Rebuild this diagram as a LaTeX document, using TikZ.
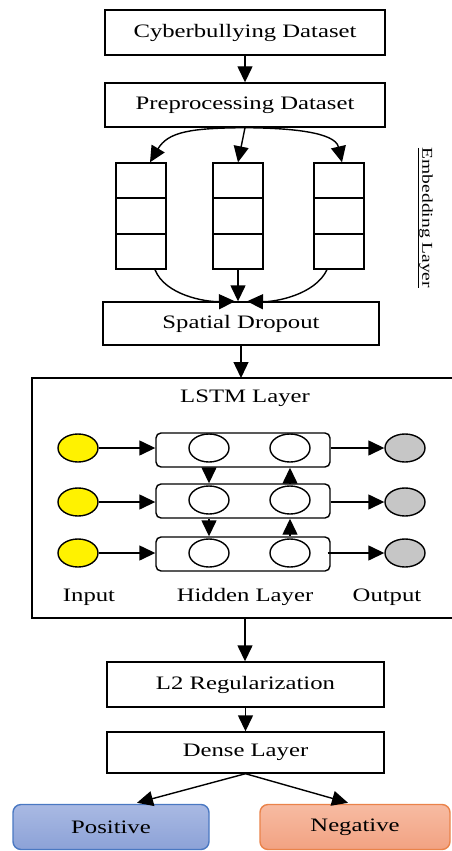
\documentclass[tikz,border=0pt]{standalone}
\usepackage{fontspec}
\setmainfont[FakeStretch=1.3]{Liberation Serif}
\usetikzlibrary{arrows.meta,calc,shapes.geometric}
\definecolor{posA}{HTML}{A9B9E3}
\definecolor{posB}{HTML}{8CA2D7}
\definecolor{posD}{HTML}{4A78C2}
\definecolor{negA}{HTML}{F7BBA2}
\definecolor{negB}{HTML}{F2A282}
\definecolor{negD}{HTML}{EA834A}
\definecolor{ingold}{HTML}{FFF200}
\definecolor{outgray}{HTML}{C6C6C6}
\begin{document}
\begin{tikzpicture}[x=1pt,y=-1pt,
  font=\fontsize{19}{22}\selectfont,
  line width=1.4pt,
  arr/.style={-{Triangle[length=16pt,width=15pt]}},
  box/.style={draw, rectangle, inner sep=0pt},
  col/.style={draw, rectangle, minimum width=50pt, minimum height=106pt, inner sep=0pt},
  hid/.style={draw, rounded corners=5pt, minimum width=174pt, minimum height=34pt, inner sep=0pt},
  cell/.style={draw, ellipse, minimum width=40pt, minimum height=28pt, inner sep=0pt},
  incell/.style={cell, fill=ingold},
  outcell/.style={cell, fill=outgray},
  cls/.style={draw, rounded corners=8pt, minimum height=45pt, inner sep=0pt}
]
\useasboundingbox (0,0) rectangle (452,851);

% top boxes
\node[box, minimum width=280pt, minimum height=45pt] (cb) at (245,32.5) {Cyberbullying Dataset};
\node[box, minimum width=280pt, minimum height=44pt] (pp) at (245,105) {Preprocessing Dataset};

% embedding columns
\node[col] (colL) at (141,216) {};
\node[col] (colM) at (238,216) {};
\node[col] (colR) at (339,216) {};
\foreach \c in {colL,colM,colR}{
  \draw ($(\c.north west)!0.333!(\c.south west)$) -- ($(\c.north east)!0.333!(\c.south east)$);
  \draw ($(\c.north west)!0.667!(\c.south west)$) -- ($(\c.north east)!0.667!(\c.south east)$);
}
\node[rotate=-90, font=\fontsize{15}{17}\selectfont] (emb) at (425,218) {\underline{Embedding Layer}};

\node[box, minimum width=276pt, minimum height=43pt] (sd) at (241,323.5) {Spatial Dropout};

\draw[arr] (cb.south) -- (pp.north);
\draw[arr] (pp.south) -- (colM.north);
\draw[arr] (pp.south) .. controls (190,128) and (168,132) .. ($(colL.north)+(9,0)$);
\draw[arr] (pp.south) .. controls (290,128) and (335,132) .. ($(colR.north)+(3,0)$);
\draw[arr] (colM.south) -- (colM.south |- sd.north);
\draw[arr] ($(colL.south)+(14,0)$) .. controls (165,295) and (205,302) .. ($(sd.north)+(-6,0)$);
\draw[arr] ($(colR.south)+(-12,0)$) .. controls (315,295) and (275,302) .. ($(sd.north)+(6,0)$);

% LSTM frame (right side runs off the picture)
\coordinate (ftop) at (242,378);
\coordinate (fbot) at (245,618);
\draw (460,378) -- (32,378) -- (32,618) -- (460,618);
\node (lstm) at (245,398) {LSTM Layer};
\draw[arr] (sd.south) -- (sd.south |- ftop);

% inputs, hidden, outputs
\node[incell] (in1) at (78,448) {};
\node[incell] (in2) at (78,502) {};
\node[incell] (in3) at (78,553) {};
\node[hid] (h1) at (243,450) {};
\node[hid] (h2) at (243,501) {};
\node[hid] (h3) at (243,554) {};
\node[cell] (a1) at (209,448) {};
\node[cell] (b1) at (290,448) {};
\node[cell] (a2) at (209,500) {};
\node[cell] (b2) at (290,500) {};
\node[cell] (a3) at (209,553) {};
\node[cell] (b3) at (290,553) {};
\node[outcell] (o1) at (405,448) {};
\node[outcell] (o2) at (405,502) {};
\node[outcell] (o3) at (405,553) {};

\draw[arr] (in1.east) -- (in1.east -| h1.west);
\draw[arr] (in2.east) -- (in2.east -| h2.west);
\draw[arr] (in3.east) -- (in3.east -| h3.west);
\draw[arr] (h1.east |- o1.west) -- (o1.west);
\draw[arr] (h2.east |- o2.west) -- (o2.west);
\draw[arr] ($(h3.east |- o3.west)+(-3,0)$) -- (o3.west);
\draw[arr] (a1 |- h1.south) -- (a1 |- h2.north);
\draw[arr] (a2 |- h2.south) -- (a2 |- h3.north);
\draw[arr] (b2 |- h2.north) -- (b2 |- h1.south);
\draw[arr] (b3 |- h3.north) -- (b3 |- h2.south);

\node (lin) at (89,597) {Input};
\node (lhid) at (245,597) {Hidden Layer};
\node (lout) at (387,597) {Output};

% lower boxes
\node[box, minimum width=277pt, minimum height=45pt] (l2) at (245.5,684.5) {L2 Regularization};
\node[box, minimum width=277pt, minimum height=41pt] (dense) at (245.5,752.5) {Dense Layer};
\draw[arr] (fbot) -- (fbot |- l2.north);
\draw[arr] (l2.south) -- (dense.north);

\node[cls, draw=posD, top color=posA, bottom color=posB, minimum width=196pt] (pos) at (111,827) {Positive};
\node[cls, draw=negD, top color=negA, bottom color=negB, minimum width=190pt] (neg) at (355,827) {Negative};
\draw[arr] (dense.south) -- ($(pos.north)+(26,-1)$);
\draw[arr] (dense.south) -- ($(neg.north)+(-7,-1)$);
\end{tikzpicture}
\end{document}
